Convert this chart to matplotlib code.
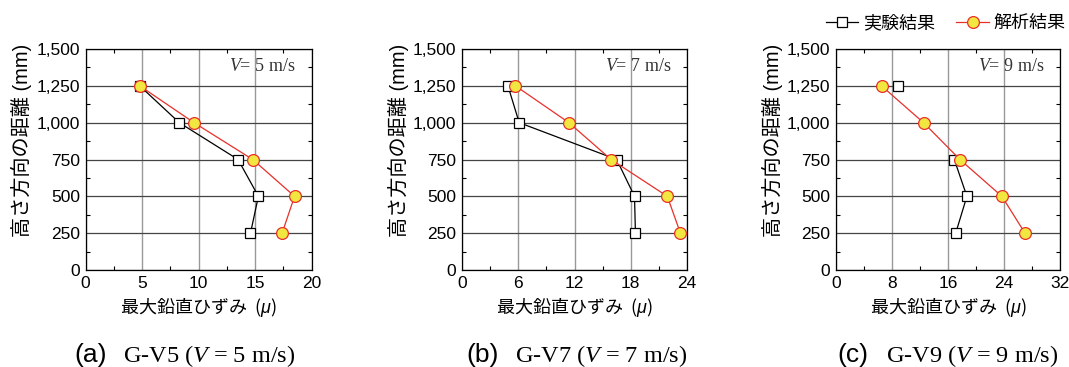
import numpy as np
import matplotlib
matplotlib.use("Agg")
import matplotlib.pyplot as plt
from matplotlib.ticker import MultipleLocator, FuncFormatter

plt.rcParams["font.family"] = ["Liberation Sans", "Noto Sans CJK JP"]
plt.rcParams["mathtext.fontset"] = "custom"
plt.rcParams["mathtext.rm"] = "Liberation Serif"
plt.rcParams["mathtext.it"] = "Liberation Serif:italic"
plt.rcParams["mathtext.sf"] = "Liberation Sans:italic"

# heights above the base (mm)
heights = [1250, 1000, 750, 500, 250]

# max vertical strain, experiment / analysis
exp_v5 = [4.8, 8.3, 13.5, 15.3, 14.6]
ana_v5 = [4.8, 9.6, 14.8, 18.5, 17.4]
exp_v7 = [4.9, 6.1, 16.5, 18.4, 18.5]
ana_v7 = [5.7, 11.4, 15.9, 21.9, 23.3]
exp_v9 = [8.9, np.nan, 16.9, 18.7, 17.1]
ana_v9 = [6.5, 12.5, 17.7, 23.7, 27.0]

speeds = [5, 7, 9]
xmax = [20, 24, 32]
xstep = [5, 6, 8]
captions = ["(a)", "(b)", "(c)"]

fig = plt.figure(figsize=(10.69, 3.67), dpi=100)

# axes boxes in pixels (left, right) ; top/bottom shared
boxes = [(85.5, 311.5), (462, 687), (836, 1060)]
top_px, bot_px = 49, 270
W, H = 1069, 367

cap_left = [74, 466, 837]

series = [(exp_v5, ana_v5), (exp_v7, ana_v7), (exp_v9, ana_v9)]

for i, ((l, r), (exp, ana)) in enumerate(zip(boxes, series)):
    ax = fig.add_axes([l / W, (H - bot_px) / H, (r - l) / W, (bot_px - top_px) / H])

    ax.plot(exp, heights, color="black", lw=0.9, marker="s", ms=7,
            mfc="white", mec="black", mew=0.9, label="実験結果", zorder=3)
    ax.plot(ana, heights, color="#e8302a", lw=0.9, marker="o", ms=8.5,
            mfc="#f2e640", mec="#e8302a", mew=0.9, label="解析結果", zorder=4)

    ax.set_xlim(0, xmax[i])
    ax.set_ylim(0, 1500)
    ax.xaxis.set_major_locator(MultipleLocator(xstep[i]))
    ax.xaxis.set_minor_locator(MultipleLocator(xstep[i] / 2))
    ax.yaxis.set_major_locator(MultipleLocator(250))
    ax.yaxis.set_minor_locator(MultipleLocator(125))
    ax.yaxis.set_major_formatter(FuncFormatter(lambda v, p: f"{int(v):,}"))

    ax.grid(True, axis="x", which="major", color="#999999", lw=1.0)
    ax.grid(True, axis="y", which="major", color="#444444", lw=0.9)
    ax.set_axisbelow(True)

    ax.tick_params(which="both", direction="in", top=True, right=True,
                   labelsize=12.5, width=0.8)
    ax.tick_params(which="major", length=0, pad=4)
    ax.tick_params(which="minor", length=3)
    for s in ax.spines.values():
        s.set_linewidth(0.9)

    ax.set_ylabel("高さ方向の距離 (mm)", fontsize=14.5, labelpad=3)
    ax.yaxis.label.set_y(0.585)
    ax.set_xlabel(r"最大鉛直ひずみ  ($\mathsf{\mu}$)", fontsize=13, labelpad=3,
                  family="Noto Sans CJK JP")

    ax.text(0.93, 0.92, f"$V$= {speeds[i]} m/s", transform=ax.transAxes,
            ha="right", va="center", fontsize=13, color="#333333",
            family="Liberation Serif")

    # caption below each panel
    fig.text(cap_left[i] / W, 1 - 362 / H, captions[i], ha="left",
             va="baseline", fontsize=19, family="Liberation Sans")
    fig.text((cap_left[i] + 49) / W, 1 - 362 / H,
             f"G-V{speeds[i]} ($V$ = {speeds[i]} m/s)", ha="left",
             va="baseline", fontsize=17.5, family="Liberation Serif")

    if i == 2:
        handles, labels = ax.get_legend_handles_labels()

fig.legend(handles, labels, loc="center right", bbox_to_anchor=(1.0, 1 - 23 / H),
           ncol=2, frameon=False, handlelength=1.8,
           handletextpad=0.25, columnspacing=1.2, borderaxespad=0.1, borderpad=0.1,
           prop={"family": ["Noto Sans CJK JP"], "size": 13})

fig.savefig("out.png", dpi=100)
